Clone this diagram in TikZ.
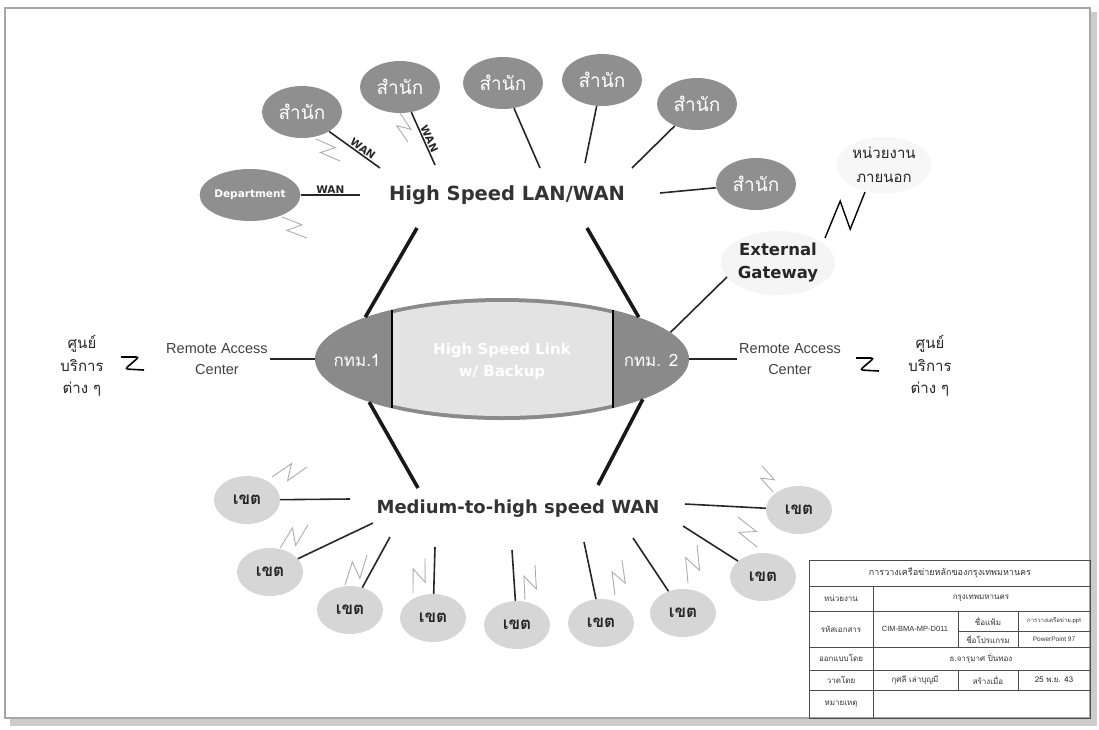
\documentclass[tikz,border=0pt]{standalone}
\usepackage{fontspec}
\setmainfont{DejaVu Sans}
\newfontfamily\thaifont[Script=Thai]{Loma}
\newfontfamily\arialfont{Liberation Sans}
\usetikzlibrary{shapes.geometric, calc, positioning}

% small lightning link beside a site
\newcommand\bolt[3][boltline]{\draw[#1] (#2) -- ($(#2)!0.62!(#3)!0.55!90:(#3)$) -- ($(#2)!0.38!(#3)!0.35!-90:(#3)$) -- (#3);}

\begin{document}
\begin{tikzpicture}[x=1pt, y=-1pt,
    office/.style={ellipse, fill=black!44, minimum width=80, minimum height=52, inner sep=0pt, text=white, font=\thaifont\fontsize{19}{19}\selectfont},
    district/.style={ellipse, fill=black!16, minimum width=66, minimum height=48, inner sep=0pt, text=black!85, font=\thaifont\bfseries\fontsize{17}{17}\selectfont},
    hubtext/.style={font=\bfseries\fontsize{19.5}{20}\selectfont, text=black!80},
    spoke/.style={line width=1.6pt, black!85},
    trunk/.style={line width=3.6pt, black!90},
    boltline/.style={gray!65, line width=0.9pt},
    gatebolt/.style={black, line width=1.4pt},
    squig/.style={black, line width=1.6pt, rounded corners=3pt},
    racbox/.style={font=\arialfont\fontsize{14.5}{21}\selectfont, align=center, text=black!75, inner sep=2pt},
    svcbox/.style={font=\thaifont\fontsize{15}{22.5}\selectfont, align=center, text=black!85},
    wanlbl/.style={font=\bfseries\fontsize{10.5}{10.5}\selectfont, inner sep=1pt},
    cell/.style={font=\thaifont\fontsize{8}{8}\selectfont, text=black!80},
    tbl/.style={draw=black!70, line width=0.6pt}
]
\useasboundingbox (0,0) rectangle (1099,729);

% sheet frame
\fill[gray!40] (1090,12) rectangle (1097,726);
\fill[gray!40] (10,718) rectangle (1097,726);
\draw[gray!70, line width=1.2pt] (5,8) rectangle (1090,718);

% upper network
\node[hubtext] (lanwan) at (507,195) {High Speed LAN/WAN};
\node[office] (of1) at (302,112) {สำนัก};
\node[office] (of2) at (400,87) {สำนัก};
\node[office] (of3) at (503,83) {สำนัก};
\node[office] (of4) at (602,80) {สำนัก};
\node[office] (of5) at (697,104) {สำนัก};
\node[office] (of6) at (756,184) {สำนัก};
\node[office, minimum width=78, font=\bfseries\fontsize{10.5}{10.5}\selectfont] (dept) at (250,195) {Department};

\coordinate (h0) at (360,195);
\coordinate (h1) at (380,168);
\coordinate (h2) at (435,165);
\coordinate (h3) at (540,168);
\coordinate (h4) at (585,163);
\coordinate (h5) at (632,168);
\coordinate (h6) at (660,193);

\draw[spoke] (dept) -- node[wanlbl, above] {WAN} (h0);
\draw[spoke] (of1) -- node[wanlbl, sloped, above, pos=0.6] {WAN} (h1);
\draw[spoke] (of2) -- node[wanlbl, sloped, above, pos=0.55] {WAN} (h2);
\draw[spoke] (of3) -- (h3);
\draw[spoke] (of4) -- (h4);
\draw[spoke] (of5) -- (h5);
\draw[spoke] (h6) -- (of6);

\bolt{316,139}{340,161}
\bolt{400,113}{408,142}
\bolt{282,217}{307,238}

% core ring
\node[ellipse, fill=black!46, minimum width=374, minimum height=122, inner sep=0pt] (core) at (502,359) {};
\begin{scope}
  \clip (core.center) ellipse [x radius=183, y radius=57];
  \fill[black!11] (392,290) rectangle (613,430);
\end{scope}
\draw[line width=1.8pt] (392,310) -- (392,408);
\draw[line width=1.8pt] (613,310) -- (613,408);
\node[text=white, font=\thaifont\fontsize{17}{17}\selectfont] (bkk1) at (357,360) {กทม.1};
\node[text=white, font=\thaifont\fontsize{17}{17}\selectfont] (bkk2) at (651,360) {กทม. 2};
\node[text=white, align=center, font=\bfseries\fontsize{15}{22}\selectfont] (link) at (502,361) {High Speed Link\\w/ Backup};

\coordinate (hl) at (417,228);
\coordinate (hr) at (587,228);
\coordinate (ml) at (418,488);
\coordinate (mr) at (598,485);
\draw[trunk] (hl) -- (core.163);
\draw[trunk] (hr) -- (core.17);
\draw[trunk] (core.-162) -- (ml);
\draw[trunk] (core.-16) -- (mr);

% external side
\node[ellipse, fill=black!4, minimum width=114, minimum height=64, inner sep=0pt, align=center, font=\bfseries\fontsize{16.5}{23}\selectfont, text=black!85] (gw) at (778,263) {External\\Gateway};
\node[ellipse, fill=black!3, inner sep=2pt, align=center, font=\thaifont\fontsize{15}{24}\selectfont, text=black!85] (ext) at (884,165) {หน่วยงาน\\ภายนอก};
\coordinate (gwin) at (727,277);
\draw[spoke] (core.9) -- (gwin);
\coordinate (gwb) at (825,238);
\coordinate (extb) at (865,192);
\bolt[gatebolt]{gwb}{extb}

% remote access
\node[racbox] (racL) at (217,359) {Remote Access\\Center};
\node[racbox] (racR) at (790,359) {Remote Access\\Center};
\node[svcbox] (svcL) at (82,366) {ศูนย์\\บริการ\\ต่าง ๆ};
\node[svcbox] (svcR) at (930,366) {ศูนย์\\บริการ\\ต่าง ๆ};
\draw[spoke] (racL.east) -- (core.west);
\draw[spoke] (core.east) -- (racR.west);
\coordinate (sqL) at (121,357);
\coordinate (sqR) at (856,358);
\draw[squig] (sqL) -- ++(18,0) -- ++(-14,12) -- ++(19,1);
\draw[squig] (sqR) -- ++(18,0) -- ++(-14,12) -- ++(19,1);

% lower network
\node[hubtext, font=\bfseries\fontsize{18}{18}\selectfont] (medwan) at (518,509) {Medium-to-high speed WAN};
\node[district] (dA) at (247,500) {เขต};
\node[district] (dB) at (270,572) {เขต};
\node[district] (dC) at (350,610) {เขต};
\node[district] (dD) at (433,618) {เขต};
\node[district] (dE) at (517,625) {เขต};
\node[district] (dF) at (601,623) {เขต};
\node[district] (dG) at (683,613) {เขต};
\node[district] (dH) at (763,577) {เขต};
\node[district] (dI) at (799,510) {เขต};

\coordinate (mA) at (350,499);
\coordinate (mB) at (373,523);
\coordinate (mC) at (390,537);
\coordinate (mD) at (435,547);
\coordinate (mE) at (512,550);
\coordinate (mF) at (584,542);
\coordinate (mG) at (633,538);
\coordinate (mH) at (683,526);
\coordinate (mI) at (685,504);
\foreach \d in {A,B,C,D,E,F,G,H,I}
  \draw[spoke] (d\d) -- (m\d);

\bolt{272,477}{307,467}
\bolt{280,548}{308,525}
\bolt{345,585}{367,555}
\bolt{413,593}{425,558}
\bolt{525,600}{535,565}
\bolt{615,595}{622,560}
\bolt{688,583}{697,545}
\bolt{757,547}{738,517}
\bolt{773,492}{762,466}

% title block
\draw[tbl] (809,560) rectangle (1090,718);
\draw[tbl] (809,586) -- (1090,586);
\draw[tbl] (809,611) -- (1090,611);
\draw[tbl] (958,631) -- (1090,631);
\draw[tbl] (809,647) -- (1090,647);
\draw[tbl] (809,670) -- (1090,670);
\draw[tbl] (809,690) -- (1090,690);
\draw[tbl] (873,586) -- (873,718);
\draw[tbl] (958,611) -- (958,647);
\draw[tbl] (1018,611) -- (1018,647);
\draw[tbl] (958,670) -- (958,690);
\draw[tbl] (1018,670) -- (1018,690);

\node[cell, font=\thaifont\fontsize{9}{9}\selectfont] (ttl) at (950,573) {การวางเครือข่ายหลักของกรุงเทพมหานคร};
\node[cell] (c1a) at (841,598) {หน่วยงาน};
\node[cell] (c1b) at (981,598) {กรุงเทพมหานคร};
\node[cell] (c2a) at (841,629) {รหัสเอกสาร};
\node[cell, font=\arialfont\fontsize{7.5}{7.5}\selectfont] (c2b) at (915,629) {CIM-BMA-MP-D011};
\node[cell] (c2c) at (988,621) {ชื่อแฟ้ม};
\node[cell] (c2d) at (988,639) {ชื่อโปรแกรม};
\node[cell, font=\thaifont\fontsize{6}{6}\selectfont] (c2e) at (1054,621) {การวางเครือข่าย.ppt};
\node[cell, font=\arialfont\fontsize{6.5}{6.5}\selectfont] (c2f) at (1054,639) {PowerPoint 97};
\node[cell] (c3a) at (841,658) {ออกแบบโดย};
\node[cell] (c3b) at (981,658) {ธ.จารุมาศ ปิ่นทอง};
\node[cell] (c4a) at (841,680) {วาดโดย};
\node[cell] (c4b) at (915,680) {กุศลี เล่าบุญมี};
\node[cell] (c4c) at (988,680) {สร้างเมื่อ};
\node[cell] (c4d) at (1054,680) {25 พ.ย. 43};
\node[cell] (c5a) at (841,704) {หมายเหตุ};
\end{tikzpicture}
\end{document}
